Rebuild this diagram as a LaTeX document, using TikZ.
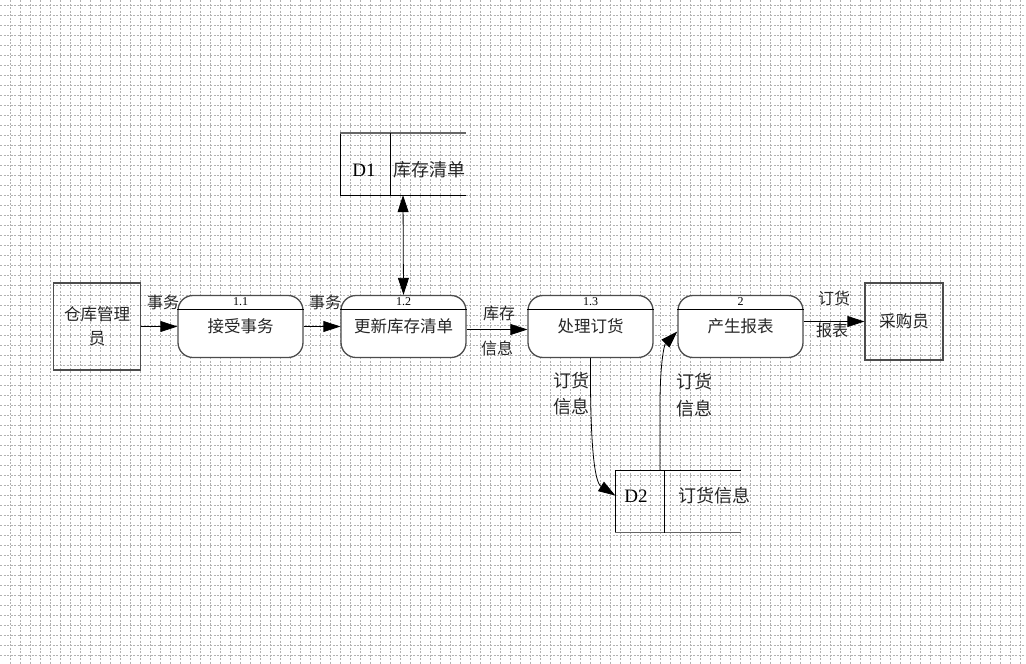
\documentclass[tikz,border=0pt]{standalone}
\usepackage{fontspec}
\setmainfont{Liberation Serif}
\newfontfamily\cjk{Noto Sans CJK SC}
\usetikzlibrary{arrows.meta}
\tikzset{
  gridline/.style={draw=black!30, line width=0.6pt, dash pattern=on 2pt off 1.5pt},
  proc/.style={draw=black!70, line width=1.3pt, rounded corners=15pt, minimum width=125pt, minimum height=62pt, inner sep=0pt, font=\cjk\fontsize{16.5}{19}\selectfont, text=black!85},
  ext/.style={draw=black!70, line width=1.3pt, inner sep=0pt, align=center, font=\cjk\fontsize{16.5}{24}\selectfont, text=black!85},
  store/.style={minimum width=125pt, minimum height=62pt, inner sep=0pt},
  numlbl/.style={font=\fontsize{12}{13}\selectfont, inner sep=0pt},
  flowlbl/.style={font=\cjk\fontsize{16}{19}\selectfont, inner sep=0pt, text=black!85},
  stlbl/.style={font=\cjk\fontsize{18}{20}\selectfont, inner sep=0pt, text=black!85},
  idlbl/.style={font=\fontsize{19}{21}\selectfont, inner sep=0pt},
  tip/.tip={Triangle[length=17pt,width=11pt]},
  flow/.style={draw=black, line width=0.8pt, -tip},
  flow2/.style={draw=black, line width=0.8pt, tip-tip},
}
\begin{document}
\begin{tikzpicture}[x=1pt,y=-1pt]
\useasboundingbox (0,0) rectangle (1026,664);
\fill[white] (0,0) rectangle (1026,664);
\foreach \x in {10,20,...,1020} \draw[gridline] (\x,0) -- (\x,664);
\foreach \y in {5,15,...,655} \draw[gridline] (0,\y) -- (1026,\y);

% external entities
\node[ext, minimum width=87pt, minimum height=87pt] (e1) at (97,326.5) {仓库管理\\员};
\node[ext, minimum width=78pt, minimum height=77pt] (e2) at (904,321.5) {采购员};

% processes
\node[proc, fill=white] (p11) at (240.5,326.5) {\raisebox{-6pt}{接受事务}};
\node[proc, fill=white] (p12) at (403.5,326.5) {\raisebox{-6pt}{更新库存清单}};
\node[proc, fill=white] (p13) at (590.5,326.5) {\raisebox{-6pt}{处理订货}};
\node[proc, fill=white] (p2)  at (740.5,326.5) {\raisebox{-6pt}{产生报表}};
\foreach \p/\n in {p11/1.1,p12/1.2,p13/1.3,p2/2}{
  \draw[black, line width=0.9pt] ([yshift=-15pt]\p.north west) -- ([yshift=-15pt]\p.north east);
  \node[numlbl] at ([yshift=-7pt]\p.north) {\n};
}

% data stores
\node[store] (d1) at (403,164) {};
\draw[black!60, line width=1.5pt] (d1.north east) -- (d1.north west);
\draw[black, line width=0.9pt] ([yshift=-1pt]d1.north west) -- (d1.south west) -- (d1.south east);
\draw[black, line width=0.9pt] ([xshift=50pt]d1.north west) -- ([xshift=50pt]d1.south west);
\node[idlbl] at (364,170) {D1};
\node[stlbl] at (429,170) {库存清单};

\node[store] (d2) at (678,501.5) {};
\draw[black, line width=0.9pt] (d2.north east) -- (d2.north west) -- ([yshift=1pt]d2.south west);
\draw[black!60, line width=1.5pt] (d2.south west) -- (d2.south east);
\draw[black, line width=0.9pt] ([xshift=49pt]d2.north west) -- ([xshift=49pt]d2.south west);
\node[idlbl] at (636,496) {D2};
\node[stlbl] at (714,496) {订货信息};

% flows
\draw[flow] (e1.east) -- (p11.west);
\draw[flow] (p11.east) -- (p12.west);
\draw[flow2] (d1.south) -- (p12.north);
\draw[flow] ([yshift=-3pt]p12.east) -- ([yshift=-3pt]p13.west);
\draw[flow] (p13.south) .. controls (590,440) and (594,482) .. ([yshift=6pt]d2.west);
\draw[flow] ([xshift=-18pt]d2.north) -- (660,405) .. controls (660,365) and (664,345) .. ([yshift=-5pt]p2.west);
\draw[flow] ([yshift=5pt]p2.east) -- ([yshift=5pt]p2.east -| e2.west);

% flow labels
\node[flowlbl] at (163,302) {事务};
\node[flowlbl] at (325,302) {事务};
\node[flowlbl] at (499,313) {库存};
\node[flowlbl] at (497,348) {信息};
\node[stlbl] at (571,381) {订货};
\node[stlbl] at (571,407) {信息};
\node[stlbl] at (694,382) {订货};
\node[stlbl] at (694,409) {信息};
\node[flowlbl] at (834,298) {订货};
\node[flowlbl] at (832,330) {报表};
\end{tikzpicture}
\end{document}
